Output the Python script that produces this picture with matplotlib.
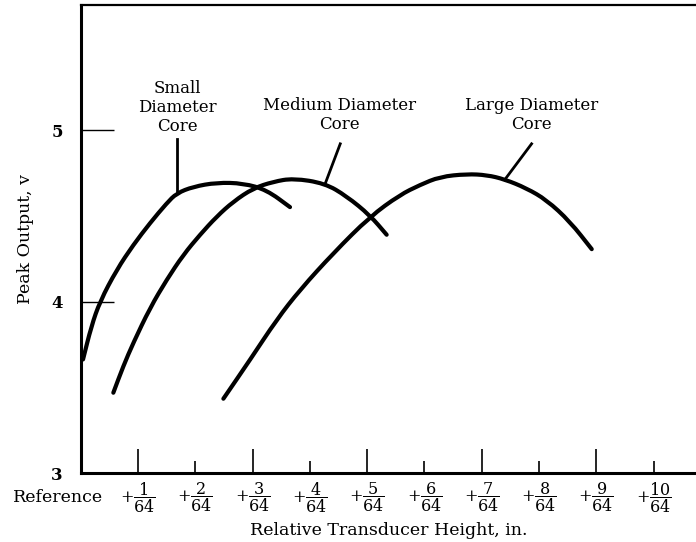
import matplotlib
matplotlib.use("Agg")
import matplotlib.pyplot as plt
from matplotlib.path import Path
from matplotlib.patches import PathPatch

# Peak output vs relative transducer height (x in 64ths of an inch)
small_x = [0.04, 0.185, 0.337, 0.628, 0.918, 1.209, 1.501, 1.675, 1.965, 2.373, 2.838, 3.246, 3.653]
small_y = [3.663, 3.856, 4.002, 4.186, 4.331, 4.458, 4.574, 4.632, 4.670, 4.694, 4.690, 4.651, 4.551]

medium_x = [0.569, 0.743, 0.918, 1.209, 1.501, 1.791, 2.082, 2.373, 2.663, 3.012, 3.361, 3.71, 4.26, 4.64, 5.05, 5.34]
medium_y = [3.469, 3.624, 3.760, 3.963, 4.128, 4.273, 4.390, 4.496, 4.583, 4.661, 4.699, 4.719, 4.690, 4.615, 4.503, 4.390]

large_x = [2.49, 2.96, 3.42, 3.83, 4.41, 5.05, 5.57, 5.92, 6.27, 6.74, 7.09, 7.40, 7.78, 8.13, 8.54, 8.92]
large_y = [3.434, 3.663, 3.895, 4.070, 4.283, 4.496, 4.622, 4.680, 4.728, 4.744, 4.738, 4.713, 4.661, 4.593, 4.467, 4.306]

# curve labels and their leader lines
labels = ["Small\nDiameter\nCore", "Medium Diameter\nCore", "Large Diameter\nCore"]
label_pos = [(1.68, 5.13), (4.51, 5.09), (7.87, 5.09)]
leaders = [((1.68, 1.68), (4.95, 4.64)),
           ((4.53, 4.27), (4.92, 4.69)),
           ((7.87, 7.40), (4.92, 4.71))]

x_ticks = [1, 2, 3, 4, 5, 6, 7, 8, 9, 10]
y_ticks = [3, 4, 5]


def smooth_path(xs, ys):
    # quadratic bezier through the midpoints, so the hand-drawn curves look smooth
    pts = list(zip(xs, ys))
    verts = [pts[0], ((pts[0][0] + pts[1][0]) / 2, (pts[0][1] + pts[1][1]) / 2)]
    codes = [Path.MOVETO, Path.LINETO]
    for i in range(1, len(pts) - 1):
        mid = ((pts[i][0] + pts[i + 1][0]) / 2, (pts[i][1] + pts[i + 1][1]) / 2)
        verts += [pts[i], mid]
        codes += [Path.CURVE3, Path.CURVE3]
    verts.append(pts[-1])
    codes.append(Path.LINETO)
    return Path(verts, codes)


plt.rcParams['font.family'] = ['DejaVu Serif']
plt.rcParams['mathtext.fontset'] = 'dejavuserif'

fig = plt.figure(figsize=(6.96, 5.42), dpi=100)
ax = fig.add_axes([0.116, 0.127, 0.884, 0.864])

for xs, ys in [(small_x, small_y), (medium_x, medium_y), (large_x, large_y)]:
    ax.add_patch(PathPatch(smooth_path(xs, ys), fill=False, edgecolor='black',
                           linewidth=3.0, capstyle='round'))

for txt, (tx, ty), (lx, ly) in zip(labels, label_pos, leaders):
    ax.plot(lx, ly, color='black', linewidth=2.0)
    ax.text(tx, ty, txt, ha='center', va='center', fontsize=12, linespacing=1.15)

ax.set_xlim(0, 10.74)
ax.set_ylim(3, 5.73)

major = [t for t in x_ticks if t % 2 == 1]
minor = [t for t in x_ticks if t % 2 == 0]
ax.set_xticks(major, labels=[r'$+\dfrac{%d}{64}$' % t for t in major])
ax.set_xticks(minor, labels=[r'$+\dfrac{%d}{64}$' % t for t in minor], minor=True)
ax.tick_params(axis='x', which='major', direction='in', length=17, width=1.2, pad=5, labelsize=11.5)
ax.tick_params(axis='x', which='minor', direction='in', length=8.5, width=1.2, pad=5, labelsize=11.5)

ax.set_yticks(y_ticks)
ax.set_yticklabels([str(v) for v in y_ticks], fontweight='bold')
ax.tick_params(axis='y', direction='in', length=24, width=1.0, pad=13, labelsize=12)

ax.text(0.39, -0.052, "Reference", transform=ax.get_xaxis_transform(),
        ha='right', va='center', fontsize=12.5)

ax.set_xlabel("Relative Transducer Height, in.", fontsize=12.5, labelpad=5)
ax.set_ylabel("Peak Output, v", fontsize=12.5, labelpad=12)

ax.spines['right'].set_visible(False)
ax.spines['left'].set_linewidth(2.2)
ax.spines['bottom'].set_linewidth(2.2)
ax.spines['top'].set_linewidth(1.6)

fig.savefig("out.png", dpi=100)
